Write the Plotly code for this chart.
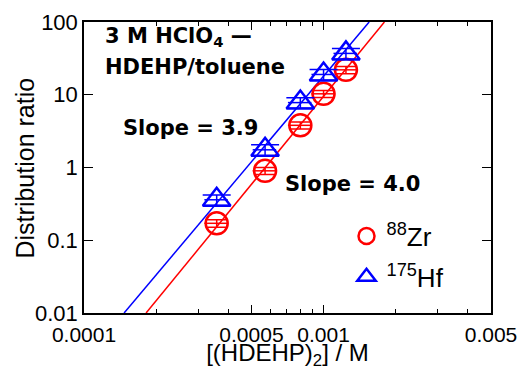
import plotly.graph_objects as go

# HDEHP dimer concentration (M)
hdehp = [3.58e-4, 5.70e-4, 8.0e-4, 1.0e-3, 1.24e-3]
hdehp_err = [4.0e-5, 6.4e-5, 9.0e-5, 1.1e-4, 1.4e-4]

# Distribution ratios
zr_D = [0.171, 0.90, 3.8, 10.3, 22.0]
zr_err = [0.02, 0.10, 0.42, 1.15, 2.5]
hf_D = [0.36, 1.75, 7.8, 19.0, 37.0]
hf_err = [0.06, 0.30, 1.3, 3.2, 6.3]

# Fitted lines (end points at D = 0.01 and 100)
fit_D = [0.01, 100]
zr_fit_x = [1.816e-4, 1.795e-3]
hf_fit_x = [1.47e-4, 1.55e-3]

x_tickvals = [1e-4, 5e-4, 1e-3, 5e-3]
x_ticktext = ["0.0001", "0.0005", "0.001", "0.005"]
x_minor = [2e-4, 3e-4, 4e-4, 6e-4, 7e-4, 8e-4, 9e-4, 2e-3, 3e-3, 4e-3]
y_tickvals = [0.01, 0.1, 1, 10, 100]
y_ticktext = ["0.01", "0.1", "1", "10", "100"]

RED = "#ff0000"
BLUE = "#0000ff"
FONT = "Liberation Sans, Arial, sans-serif"
BOLD = "DejaVu Sans, sans-serif"

fig = go.Figure()

fig.add_trace(go.Scatter(x=zr_fit_x, y=fit_D, mode="lines",
                         line=dict(color=RED, width=1.5), showlegend=False,
                         hoverinfo="skip"))
fig.add_trace(go.Scatter(x=hf_fit_x, y=fit_D, mode="lines",
                         line=dict(color=BLUE, width=1.5), showlegend=False,
                         hoverinfo="skip"))

fig.add_trace(go.Scatter(
    x=hdehp, y=zr_D, mode="markers", name="<sup>88</sup>Zr",
    legendgroup="zr",
    marker=dict(symbol="circle-open", size=22, color=RED, line=dict(width=2.5, color=RED)),
    error_y=dict(type="data", array=zr_err, color=RED, thickness=1.5, width=11),
    error_x=dict(type="data", array=hdehp_err, color=RED, thickness=1.5, width=0),
))
fig.add_trace(go.Scatter(
    x=hdehp, y=hf_D, mode="markers", name="<sup>175</sup>Hf",
    legendgroup="hf",
    marker=dict(symbol="triangle-up-open", size=24, color=BLUE, line=dict(width=2.5, color=BLUE)),
    error_y=dict(type="data", array=hf_err, color=BLUE, thickness=1.5, width=14),
    error_x=dict(type="data", array=hdehp_err, color=BLUE, thickness=1.5, width=0),
))

ann_font = dict(family=BOLD, size=21, color="black", weight="bold")
annotations = [
    dict(text="<b>3 M HClO<sub>4</sub> —</b>", x=0.047, y=0.948),
    dict(text="<b>HDEHP/toluene</b>", x=0.047, y=0.847),
    dict(text="<b>Slope = 3.9</b>", x=0.092, y=0.636),
    dict(text="<b>Slope = 4.0</b>", x=0.49, y=0.443),
]
for a in annotations:
    a.update(xref="paper", yref="paper", xanchor="left", yanchor="middle",
             showarrow=False, font=ann_font)
# y-axis title placed as rotated annotation
annotations.append(dict(text="Distribution ratio", xref="paper", yref="paper",
                        x=-0.145, y=0.5, xanchor="center", yanchor="middle",
                        textangle=-90, showarrow=False,
                        font=dict(family=FONT, size=25, color="black")))

axis_common = dict(
    type="log", showline=True, linecolor="black", linewidth=1.5,
    mirror="ticks", ticks="inside", tickcolor="black", tickwidth=1.2,
    showgrid=False, zeroline=False, automargin=False,
)

fig.update_layout(
    width=527, height=370,
    margin=dict(l=84, r=36, t=22, b=57),
    paper_bgcolor="white", plot_bgcolor="white",
    font=dict(family=FONT, color="black"),
    annotations=annotations,
    showlegend=True,
    legend=dict(x=0.645, y=0.345, xanchor="left", yanchor="top",
                bgcolor="rgba(0,0,0,0)", font=dict(family=FONT, size=26),
                tracegroupgap=4, itemsizing="trace"),
    xaxis=dict(axis_common, range=[-4, -2.30103],
               tickvals=x_tickvals, ticktext=x_ticktext, ticklen=8,
               ticklabelstandoff=2,
               tickfont=dict(family=FONT, size=21, color="black"),
               minor=dict(tickvals=x_minor, ticks="inside", ticklen=4, tickcolor="black", tickwidth=1.2),
               title=dict(text="[(HDEHP)<sub>2</sub>] / M",
                          font=dict(family=FONT, size=24, color="black"), standoff=4)),
    yaxis=dict(axis_common, range=[-2, 2],
               tickvals=y_tickvals, ticktext=y_ticktext, ticklen=9,
               tickfont=dict(family=FONT, size=22, color="black")),
)

fig.write_html("out.html", config={"displayModeBar": False},
               post_script="document.body.style.margin='0';")
